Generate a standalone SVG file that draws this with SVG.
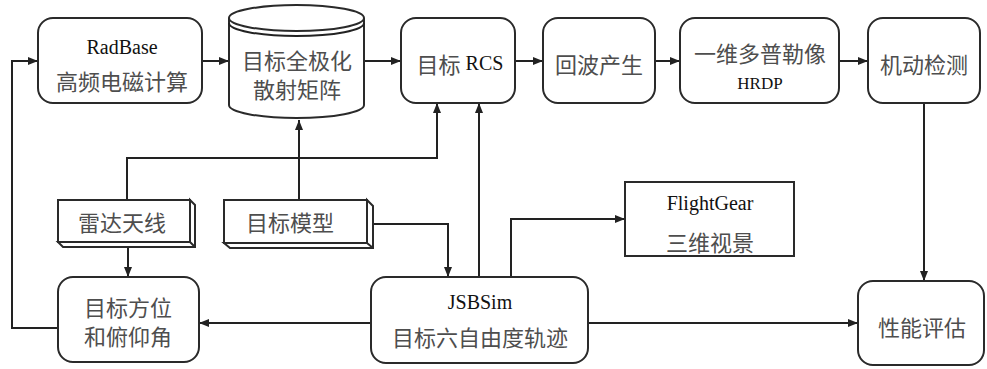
<svg xmlns="http://www.w3.org/2000/svg" width="987" height="369" viewBox="0 0 987 369">
<defs>
<marker id="arr" viewBox="0 0 10 8" refX="10" refY="4" markerWidth="10" markerHeight="8" markerUnits="userSpaceOnUse" orient="auto">
<path d="M0,0 L10,4 L0,8 z" fill="#222"/>
</marker>
<style>
.box{fill:#fff;stroke:#2a2a2a;stroke-width:2}
.ln{fill:none;stroke:#222;stroke-width:2}
.zh{font-family:"Noto Sans CJK SC","Noto Sans",sans-serif;font-size:22px;fill:#4e4e4e;text-anchor:middle;dominant-baseline:central}
.en{font-family:"Liberation Serif",serif;font-size:20px;fill:#111;text-anchor:middle;dominant-baseline:central}
</style>
</defs>
<rect width="987" height="369" fill="#fff"/>
<g id="connectors">
<path class="ln" marker-end="url(#arr)" d="M202,61 H229"/>
<path class="ln" marker-end="url(#arr)" d="M364,61 H401"/>
<path class="ln" marker-end="url(#arr)" d="M515,61 H543"/>
<path class="ln" marker-end="url(#arr)" d="M655,61 H680"/>
<path class="ln" marker-end="url(#arr)" d="M839,61 H868"/>
<path class="ln" marker-end="url(#arr)" d="M924,103 V281"/>
<path class="ln" marker-end="url(#arr)" d="M127,200 V158 H437 V103"/>
<path class="ln" marker-end="url(#arr)" d="M299,200 V120"/>
<path class="ln" marker-end="url(#arr)" d="M128,247 V277"/>
<path class="ln" marker-end="url(#arr)" d="M373,224 H448 V277"/>
<path class="ln" marker-end="url(#arr)" d="M479,277 V103"/>
<path class="ln" marker-end="url(#arr)" d="M511,277 V219 H625"/>
<path class="ln" marker-end="url(#arr)" d="M371,323 H199"/>
<path class="ln" marker-end="url(#arr)" d="M588,323 H858"/>
<path class="ln" marker-end="url(#arr)" d="M58,328 H12 V61 H38"/>
</g>
<g id="radbase">
<rect class="box" x="38" y="18" width="164" height="85" rx="15"/>
<text class="en" x="122" y="47">RadBase</text>
<text class="zh" x="122" y="80">高频电磁计算</text>
</g>
<g id="matrix">
<path class="box" d="M229,18 V105 A67.5,13 0 0 0 364,105 V18"/>
<ellipse class="box" cx="296.5" cy="18" rx="67.5" ry="13"/>
<path class="ln" d="M229,23 A67.5,13 0 0 0 364,23"/>
<text class="zh" x="297" y="59">目标全极化</text>
<text class="zh" x="297" y="88">散射矩阵</text>
</g>
<g id="rcs">
<rect class="box" x="401" y="18" width="114" height="85" rx="15"/>
<text class="zh" x="460" y="63"><tspan>目标</tspan><tspan style="font-family:'Liberation Serif',serif;font-size:20px;fill:#111"> RCS</tspan></text>
</g>
<g id="echo">
<rect class="box" x="543" y="18" width="112" height="85" rx="15"/>
<text class="zh" x="599" y="63">回波产生</text>
</g>
<g id="hrdp">
<rect class="box" x="680" y="18" width="159" height="85" rx="15"/>
<text class="zh" x="760" y="52">一维多普勒像</text>
<text class="en" x="760" y="83" style="font-size:17px">HRDP</text>
</g>
<g id="maneuver">
<rect class="box" x="868" y="18" width="112" height="85" rx="15"/>
<text class="zh" x="924" y="63">机动检测</text>
</g>
<g id="radar">
<path class="box" d="M190,200 L195,205 V247 H63 L58,242 H190 Z M190,242 L195,247"/>
<rect class="box" x="58" y="200" width="132" height="42"/>
<text class="zh" x="122" y="221">雷达天线</text>
</g>
<g id="model">
<path class="box" d="M367,200 L373,206 V248 H230 L224,243 H367 Z M367,243 L373,248"/>
<rect class="box" x="224" y="200" width="143" height="43"/>
<text class="zh" x="290" y="221">目标模型</text>
</g>
<g id="flightgear">
<rect class="box" x="625" y="182" width="169" height="74"/>
<text class="en" x="710" y="203">FlightGear</text>
<text class="zh" x="710" y="241">三维视景</text>
</g>
<g id="angle">
<rect class="box" x="58" y="277" width="141" height="85" rx="15"/>
<text class="zh" x="128" y="306">目标方位</text>
<text class="zh" x="128" y="335">和俯仰角</text>
</g>
<g id="jsbsim">
<rect class="box" x="371" y="277" width="217" height="86" rx="15"/>
<text class="en" x="480" y="302">JSBSim</text>
<text class="zh" x="480" y="336">目标六自由度轨迹</text>
</g>
<g id="evaluation">
<rect class="box" x="858" y="281" width="126" height="84" rx="15"/>
<text class="zh" x="922" y="326">性能评估</text>
</g>
</svg>
